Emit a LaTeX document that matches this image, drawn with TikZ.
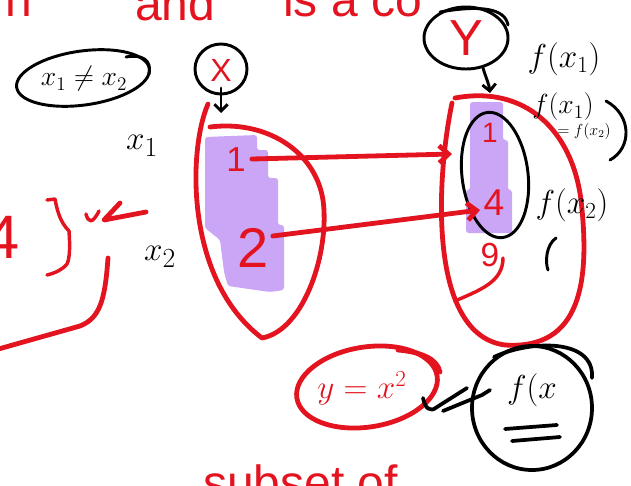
\documentclass[tikz,border=0pt]{standalone}
\usepackage{fontspec}
\setsansfont{Liberation Sans}
\usetikzlibrary{arrows.meta,shapes.geometric}
\definecolor{pen}{HTML}{E3141F}
\definecolor{hl}{HTML}{CBA6F6}
\tikzset{
  redline/.style={draw=pen, line width=3.6pt, line cap=round, line join=round},
  redthin/.style={draw=pen, line width=2.6pt, line cap=round, line join=round},
  blackline/.style={draw=black, line width=2.2pt, line cap=round, line join=round},
  redtxt/.style={text=pen, inner sep=0pt, font=\sffamily\fontsize{#1}{#1}\selectfont},
  blacktxt/.style={text=black, inner sep=0pt, font=\fontsize{#1}{#1}\selectfont},
  barb/.style={-{Straight Barb[length=7pt,width=13pt]}},
}
\begin{document}
\begin{tikzpicture}[x=0.75pt,y=-0.75pt]
\useasboundingbox (0,0) rectangle (631,485);
\clip (0,0) rectangle (631,485);

% highlights
\fill[hl, rounded corners=2pt] (205,137) -- (257,135) -- (257,150) -- (268,150) -- (268,178) -- (278,178) -- (278,225) -- (284,225) -- (284,290) -- (270,292) -- (228,286) -- (224,272) -- (220,240) -- (205,228) -- cycle;
\fill[hl, rounded corners=2pt] (470,102) -- (503,102) -- (503,140) -- (508,140) -- (508,190) -- (512,190) -- (512,233) -- (466,233) -- (466,190) -- (470,190) -- cycle;

% top text (cut off at the top edge, as in the reference)
\node[redtxt=36, anchor=base west] (tn) at (5,17) {n};
\node[redtxt=36, anchor=base west] (tand) at (135,21) {and};
\node[redtxt=36, anchor=base west] (tis) at (283,17) {is a co};

% x1 != x2
\draw[blackline, rotate around={8:(83,78)}] (83,78) ellipse [x radius=67, y radius=27];
\draw[blackline] (126,57) .. controls (142,54) and (152,60) .. (149,74);
\node[blacktxt=21] (neq) at (84,79) {$x_1\neq x_2$};

% X circle
\draw[blackline] (221,69) ellipse [x radius=26, y radius=25];
\node[redtxt=24] (X) at (221,70) {X};
\coordinate (xtip) at (221,113);
\draw[blackline, -{Straight Barb[length=5pt,width=10pt]}] (221,88) -- (xtip);

% Y circle
\draw[blackline] (466,38) ellipse [x radius=42, y radius=31];
\draw[blackline] (440,12) .. controls (480,5) and (505,8) .. (508,25);
\node[redtxt=38] (Y) at (466,38) {Y};
\coordinate (ytip) at (490,93);
\draw[blackline, -{Straight Barb[length=5pt,width=10pt]}] (483,68) .. controls (486,78) and (489,84) .. (ytip);

% left set
\draw[redline] (208,104) .. controls (188,150) and (185,280) .. (262,338) .. controls (305,330) and (330,250) .. (323,200) .. controls (315,150) and (265,120) .. (210,127);
\node[redtxt=26] (l1) at (236,160) {1};
\node[redtxt=42] (l2) at (253,248) {2};
\node[blacktxt=28] (x1) at (142,146) {$x_1$};
\node[blacktxt=28] (x2) at (160,257) {$x_2$};

% right set
\draw[redline] (452,103) .. controls (436,180) and (428,335) .. (505,345) .. controls (582,350) and (590,280) .. (581,200) .. controls (572,130) and (525,85) .. (455,98);
\draw[blackline, rotate around={7:(495,175)}] (495,175) ellipse [x radius=33, y radius=63];
\node[redtxt=21] (r1) at (490,133) {1};
\node[redtxt=28] (r4) at (494,203) {4};
\node[redtxt=25] (r9) at (490,255) {9};
\draw[redthin] (503,258) .. controls (503,282) and (480,290) .. (455,301);

% mapping arrows
\coordinate (tip1) at (452,154);
\coordinate (tip2) at (480,210);
\draw[redline, barb] (l1.east) ++(6,-1) -- (tip1);
\draw[redline, barb] (l2.east) ++(4,-12) -- (tip2);

% labels on the right
\node[blacktxt=26] (fx1a) at (564,59) {$f(x_1)$};
\node[blacktxt=21] (fx1b) at (563,107) {$f(x_1)$};
\node[blacktxt=12] (fx2s) at (584,131) {$=f(x_2)$};
\draw[blackline] (606,101) .. controls (632,115) and (632,148) .. (610,160);
\node[blacktxt=26] (fx2) at (572,205) {$f(x_2)$};
\draw[blackline] (556,238) .. controls (546,245) and (545,262) .. (548,270);

% left red scribbles
\node[redtxt=46] (l4) at (3,237) {4};
\draw[redthin] (47,200) -- (55,199) .. controls (57,210) and (60,222) .. (69,231) .. controls (70,245) and (70,258) .. (67,264) .. controls (62,270) and (55,273) .. (47,275);
\draw[redthin] (86,214) .. controls (88,222) and (92,225) .. (99,211);
\draw[redline] (120,203) -- (104,220) -- (146,212);
\draw[redline] (108,258) .. controls (105,300) and (100,318) .. (80,326) -- (-5,350);

% y = x^2 and f(x)
\draw[redline, rotate around={9:(367,387)}] (367,387) ellipse [x radius=71, y radius=40];
\draw[redline] (398,350) .. controls (420,352) and (437,358) .. (440,372);
\node[text=pen, inner sep=0pt, font=\fontsize{26}{26}\selectfont] (yx) at (362,388) {$y=x^{2}$};

\draw[blackline, line width=2.8pt] (532,408) ellipse [x radius=60, y radius=62];
\draw[blackline, line width=2.8pt] (494,357) .. controls (530,340) and (595,338) .. (592,378);
\node[blacktxt=28] (fx) at (532,390) {$f(x$};
\draw[blackline, line width=2.8pt] (505,429) -- (557,425);
\draw[blackline, line width=2.8pt] (512,441) -- (560,437);
\draw[blackline, line width=2.8pt] (423,398) .. controls (425,408) and (430,413) .. (437,407) -- (467,388);
\draw[blackline, line width=2.8pt] (443,411) -- (482,395) -- (490,390);

% bottom text (cut off at the bottom edge, as in the reference)
\node[redtxt=36, anchor=base west] (subset) at (203,499) {subset of};
\end{tikzpicture}
\end{document}
